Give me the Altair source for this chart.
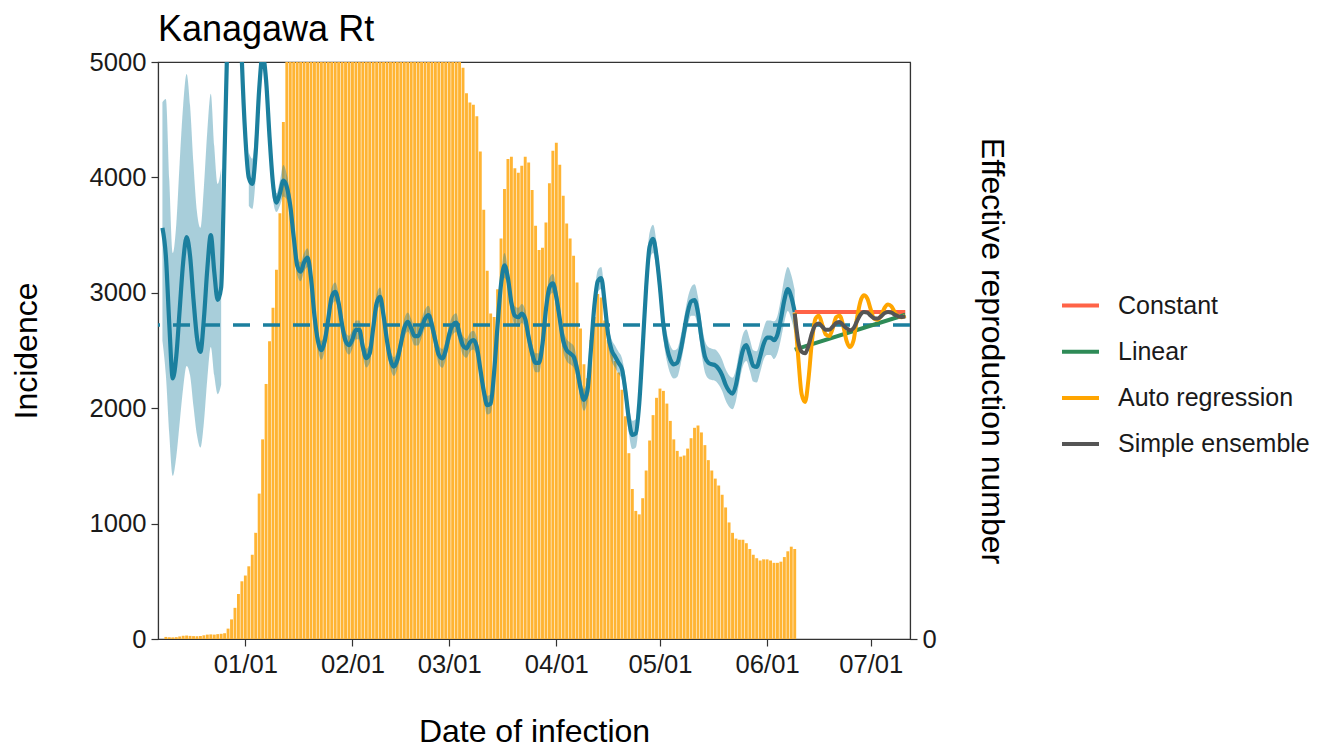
import altair as alt
import pandas as pd

# ---------------- data ----------------
TITLE = "Kanagawa Rt"
X_TITLE = "Date of infection"
Y_TITLE = "Incidence"
Y2_TITLE = "Effective reproduction number"

bar_start = "2021-12-09"
incidence = [
    # Dec 9 - Dec 31
    18, 15, 14, 16, 22, 28, 30, 27, 25, 24, 26, 32, 38, 40, 38, 42, 45,
    50, 90, 170, 270, 390, 500,
    # Jan
    550, 630, 730, 920, 1260, 1730, 2210, 2580, 2870, 3200, 3690, 4480,
    5300, 6000, 6800, 7400, 7900, 8300, 8700, 9000, 9300, 9500, 9700, 9800,
    9900, 9950, 10000, 9950, 9900, 9800, 9700,
    # Feb
    9600, 9500, 9300, 9100, 8900, 8700, 8500, 8300, 8100, 7900, 7700, 7500,
    7300, 7100, 6950, 6800, 6650, 6500, 6350, 6200, 6100, 5950, 5800, 5700,
    5550, 5450, 5350, 5250,
    # Mar
    5200, 5150, 5100, 5050, 4950, 4730, 4650, 4630, 4530, 4225, 3720, 3190,
    2820, 2790, 3030, 3470, 3900, 4160, 4180, 4080, 4040, 4100, 4180, 4130,
    3890, 3580, 3370, 3390, 3610, 3950, 4230,
    # Apr
    4300, 4110, 3840, 3600, 3470, 3320, 3090, 2690, 2380, 2260, 2590, 2790,
    2990, 2960, 2760, 2590, 2490, 2410, 2310, 2160, 1930, 1610, 1300, 1110,
    1080, 1220, 1460, 1720, 1940, 2090,
    # May
    2170, 2150, 2040, 1890, 1730, 1630, 1580, 1590, 1650, 1740, 1830, 1850,
    1790, 1680, 1550, 1460, 1390, 1330, 1250, 1140, 1010, 920, 870, 860,
    860, 830, 780, 730, 700, 680, 690,
    # Jun 1 - 9
    690, 680, 660, 660, 670, 710, 760, 800, 780,
]

rt_start = "2021-12-08"
rt_mean = [
    # Dec 8 - 31
    1.31, 1.22, 1.00, 0.83, 0.90, 1.05, 1.20, 1.28, 1.22, 1.08, 0.96, 0.915,
    1.02, 1.18, 1.287, 1.17, 1.08, 1.12, 1.55, 2.00, 2.40, 2.45, 2.20, 1.84,
    # Jan
    1.60, 1.47, 1.45, 1.55, 1.75, 1.86, 1.78, 1.60, 1.45, 1.39, 1.42, 1.46,
    1.44, 1.38, 1.28, 1.19, 1.17, 1.20, 1.215, 1.15, 1.03, 0.95, 0.92, 0.95,
    1.02, 1.09, 1.106, 1.07, 1.00, 0.95, 0.936,
    # Feb
    0.955, 0.985, 0.985, 0.93, 0.895, 0.91, 0.99, 1.07, 1.09, 1.03, 0.95, 0.89,
    0.868, 0.89, 0.94, 0.99, 1.01, 0.99, 0.965, 0.965, 0.99, 1.02, 1.032, 1.00,
    0.95, 0.905, 0.894, 0.92,
    # Mar
    0.97, 1.00, 1.008, 0.97, 0.935, 0.926, 0.945, 0.952, 0.93, 0.86, 0.79, 0.745,
    0.75, 0.85, 1.00, 1.13, 1.19, 1.15, 1.07, 1.03, 1.025, 1.037, 1.02, 0.96,
    0.91, 0.88, 0.88, 0.94, 1.05, 1.12, 1.133,
    # Apr
    1.09, 1.02, 0.95, 0.92, 0.91, 0.90, 0.86, 0.80, 0.762, 0.79, 0.92, 1.06,
    1.14, 1.15, 1.07, 0.97, 0.92, 0.90, 0.88, 0.86, 0.79, 0.70, 0.65, 0.655,
    0.75, 0.93, 1.12, 1.25, 1.275, 1.22,
    # May
    1.12, 1.00, 0.93, 0.89, 0.875, 0.88, 0.92, 0.98, 1.04, 1.075, 1.08, 1.04,
    0.96, 0.90, 0.88, 0.875, 0.872, 0.86, 0.84, 0.81, 0.79, 0.782, 0.81, 0.87,
    0.92, 0.936, 0.905, 0.87, 0.867, 0.90, 0.94,
    # Jun 1 - 9
    0.96, 0.96, 0.952, 0.97, 1.02, 1.08, 1.115, 1.09, 1.042,
]

# distance from the mean to the upper bound of the credible interval
rt_ci_upper = [
    0.40, 0.50, 0.46, 0.40, 0.42, 0.47, 0.50, 0.52, 0.48, 0.43, 0.40, 0.395,
    0.42, 0.44, 0.45, 0.40, 0.37, 0.38, 0.35, 0.35, 0.35, 0.35, 0.30, 0.28,
    0.25, 0.08, 0.08, 0.09, 0.10, 0.10, 0.09, 0.06, 0.05, 0.03, 0.04, 0.05,
    0.04, 0.035, 0.03, 0.03, 0.03, 0.03, 0.03, 0.03, 0.03, 0.03, 0.03, 0.03,
    0.03, 0.03, 0.03, 0.03, 0.03, 0.03, 0.03,
    0.03, 0.03, 0.03, 0.03, 0.03, 0.03, 0.03, 0.03, 0.03, 0.03, 0.03, 0.03,
    0.03, 0.03, 0.03, 0.03, 0.03, 0.03, 0.03, 0.03, 0.03, 0.03, 0.03, 0.03,
    0.03, 0.03, 0.03, 0.03,
    0.03, 0.03, 0.03, 0.03, 0.03, 0.03, 0.03, 0.03, 0.03, 0.03, 0.03, 0.03,
    0.03, 0.03, 0.03, 0.03, 0.04, 0.03, 0.03, 0.03, 0.03, 0.03, 0.03, 0.03,
    0.03, 0.03, 0.03, 0.03, 0.03, 0.03, 0.03,
    0.035, 0.035, 0.035, 0.035, 0.035, 0.035, 0.035, 0.035, 0.035, 0.035,
    0.035, 0.035, 0.035, 0.035, 0.035, 0.035, 0.035, 0.035, 0.035, 0.035,
    0.045, 0.045, 0.045, 0.045, 0.045, 0.045, 0.045, 0.045, 0.045, 0.045,
    0.045, 0.045, 0.045, 0.045, 0.045, 0.045, 0.045, 0.045, 0.045, 0.045,
    0.05, 0.05, 0.05, 0.05, 0.05, 0.05, 0.05, 0.05, 0.05, 0.05, 0.05,
    0.05, 0.05, 0.05, 0.05, 0.05, 0.05, 0.05, 0.05, 0.05, 0.05,
    0.055, 0.055, 0.06, 0.06, 0.065, 0.07, 0.07, 0.07, 0.07,
]
# distance from the mean to the lower bound (Dec 8 - Jan 4; symmetric afterwards)
rt_ci_lower_early = [
    0.36, 0.38, 0.35, 0.31, 0.32, 0.36, 0.40, 0.41, 0.38, 0.34, 0.31, 0.305,
    0.33, 0.35, 0.357, 0.33, 0.30, 0.31, 0.30, 0.30, 0.30, 0.30, 0.25, 0.22,
    0.20, 0.09, 0.08, 0.08,
]
rt_ci_lower = rt_ci_lower_early + rt_ci_upper[len(rt_ci_lower_early):]

RT_THRESHOLD = 1.0

model_names = ["Constant", "Linear", "Auto regression", "Simple ensemble"]
model_colors = ["#FF6347", "#2E8B57", "#FFA500", "#555555"]

constant_dates = ["2022-06-09", "2022-07-11"]
constant_rt = [1.042, 1.042]
linear_dates = ["2022-06-09", "2022-07-11"]
linear_rt = [0.922, 1.033]
forecast_start = "2022-06-09"
autoreg_rt = [
    1.04, 0.90, 0.78, 0.755, 0.83, 0.95, 1.02, 1.03, 1.00, 0.97, 0.965, 0.99,
    1.025, 1.03, 1.00, 0.95, 0.93, 0.95, 1.02, 1.075, 1.095, 1.085, 1.05, 1.02,
    1.017, 1.03, 1.055, 1.066, 1.06, 1.04, 1.028, 1.025, 1.03,
]
ensemble_rt = [
    1.037, 0.95, 0.915, 0.91, 0.935, 0.975, 1.0, 1.005, 0.995, 0.985, 0.985, 0.995,
    1.007, 1.01, 1.0, 0.99, 0.984, 0.99, 1.012, 1.033, 1.042, 1.04, 1.03, 1.022,
    1.021, 1.028, 1.038, 1.042, 1.04, 1.033, 1.028, 1.026, 1.027,
]

Y_MAX = 5000
RT_SCALE = 2720          # incidence units per unit of Rt (secondary axis)
RT_MAX = Y_MAX / RT_SCALE

# ---------------- tables ----------------
def days(start, n):
    return pd.date_range(start, periods=n, freq="D").strftime("%Y-%m-%d").tolist()

bars_df = pd.DataFrame({"date": days(bar_start, len(incidence)), "incidence": incidence})

rt_df = pd.DataFrame({
    "date": days(rt_start, len(rt_mean)),
    "rt": rt_mean,
    "up": rt_ci_upper,
    "dn": rt_ci_lower,
})
rt_df["hi"] = rt_df["rt"] + rt_df["up"]
rt_df["lo"] = rt_df["rt"] - rt_df["dn"]

fc_frames = [
    pd.DataFrame({"date": constant_dates, "rt": constant_rt, "model": model_names[0]}),
    pd.DataFrame({"date": linear_dates, "rt": linear_rt, "model": model_names[1]}),
    pd.DataFrame({"date": days(forecast_start, len(autoreg_rt)), "rt": autoreg_rt, "model": model_names[2]}),
    pd.DataFrame({"date": days(forecast_start, len(ensemble_rt)), "rt": ensemble_rt, "model": model_names[3]}),
]
fc_df = pd.concat(fc_frames, ignore_index=True)
thr_df = pd.DataFrame({"rt": [RT_THRESHOLD]})

# ---------------- encodings ----------------
FONT = "Liberation Sans"
TEAL = "#1B7F9E"
BAR = "#FFB433"

x_enc = alt.X(
    "date:T",
    scale=alt.Scale(
        type="utc",
        domain=[
            alt.DateTime(year=2021, month=12, date=8, hours=4, utc=True),
            alt.DateTime(year=2022, month=7, date=10, hours=22, utc=True),
        ],
    ),
    axis=alt.Axis(
        title=X_TITLE,
        format="%m/%d",
        values=[alt.DateTime(year=2022, month=m, date=1, utc=True) for m in range(1, 8)],
        labelFlush=False,
        labelOverlap=False,
        labelPadding=6,
        titlePadding=39,
    ),
)

y_left = alt.Y(
    "incidence:Q",
    scale=alt.Scale(domain=[0, Y_MAX], nice=False),
    axis=alt.Axis(
        title=Y_TITLE,
        orient="left",
        format="d",
        values=[0, 1000, 2000, 3000, 4000, 5000],
        titlePadding=46,
    ),
)


def y_rt(field):
    return alt.Y(
        f"{field}:Q",
        scale=alt.Scale(domain=[0, RT_MAX], nice=False),
        axis=alt.Axis(
            title=Y2_TITLE,
            orient="right",
            values=[0],
            format="d",
            titleAngle=90,
            titlePadding=38,
        ),
    )


color_enc = alt.Color(
    "model:N",
    scale=alt.Scale(domain=model_names, range=model_colors),
    legend=alt.Legend(
        title=None,
        orient="none",
        legendX=902,
        legendY=223,
        symbolType="stroke",
        symbolStrokeWidth=4,
        symbolSize=1369,
        labelFontSize=25,
        labelFont=FONT,
        labelColor="#1A1A1A",
        labelOffset=17,
        rowPadding=12.2,
        labelLimit=400,
    ),
)

# ---------------- layers ----------------
bars = alt.Chart(bars_df).mark_bar(width=2.9, color=BAR, clip=True).encode(
    x=x_enc, y=y_left
)

ribbon = (
    alt.Chart(rt_df)
    .transform_calculate(hi_c=f"datum.hi <= {RT_MAX} ? datum.hi : null")
    .mark_area(
        color=TEAL,
        opacity=0.38,
        interpolate="monotone",
        clip=True,
        invalid="break-paths-filter-domains",
    )
    .encode(x=x_enc, y=y_rt("hi_c"), y2=alt.Y2("lo:Q"))
)

threshold = alt.Chart(thr_df).mark_rule(
    color=TEAL, strokeWidth=3.5, strokeDash=[17, 13]
).encode(y=y_rt("rt"))

rt_line = alt.Chart(rt_df).mark_line(
    color=TEAL, strokeWidth=4.2, interpolate="monotone", clip=True
).encode(x=x_enc, y=y_rt("rt"))

fc_layers = [
    alt.Chart(fc_df)
    .transform_filter(alt.datum.model == m)
    .mark_line(strokeWidth=4, interpolate="monotone", clip=True)
    .encode(x=x_enc, y=y_rt("rt"), color=color_enc)
    for m in model_names
]

rt_layer = alt.layer(ribbon, threshold, rt_line, *fc_layers)

chart = (
    alt.layer(bars, rt_layer)
    .resolve_scale(y="independent")
    .properties(
        width=752,
        height=577,
        title=alt.TitleParams(
            TITLE,
            anchor="start",
            frame="group",
            fontSize=36,
            font=FONT,
            fontWeight="normal",
            color="#000000",
            offset=1,
        ),
        autosize=alt.AutoSizeParams(type="none"),
        padding={"left": 150, "top": 54, "right": 402, "bottom": 103},
    )
    .configure(font=FONT)
    .configure_view(stroke="#333333", strokeWidth=1.1)
    .configure_axis(
        grid=False,
        labelFont=FONT,
        titleFont=FONT,
        labelFontSize=25.6,
        titleFontSize=32,
        labelColor="#1A1A1A",
        titleColor="#000000",
        titleFontWeight="normal",
        tickColor="#333333",
        tickSize=7,
        tickWidth=1.2,
        domainColor="#333333",
        domainWidth=1.2,
        labelPadding=5,
    )
)

chart.save("out.html", embed_options={"renderer": "svg", "actions": False})
